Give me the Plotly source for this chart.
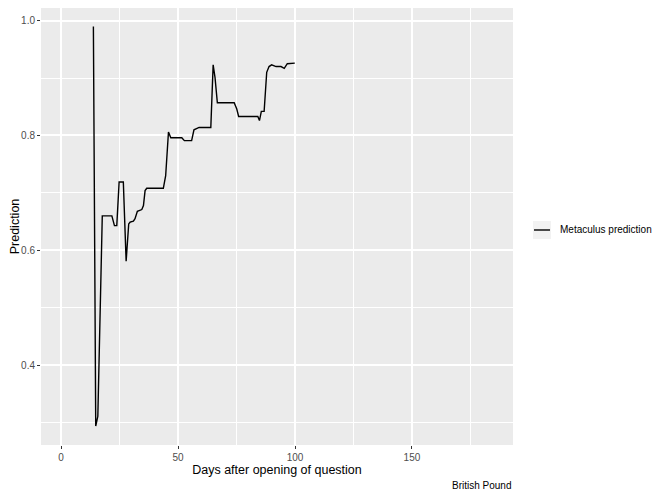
import plotly.graph_objects as go

days = [13.8, 14.8, 15.7, 17.6, 21.7, 22.8, 23.8, 24.8, 26.6, 27.8, 28.9, 29.5, 30.9, 31.6,
        32.6, 34.5, 35.2, 35.9, 36.6, 43.7, 44.7, 45.9, 46.9, 51.6, 52.7, 55.8, 56.8, 58.0,
        59.0, 64.0, 65.0, 65.8, 66.8, 74.0, 75.1, 75.9, 84.1, 84.8, 85.6, 86.8, 87.9, 88.9,
        90.0, 91.9, 94.0, 95.4, 96.7, 99.9]
prediction = [0.99, 0.294, 0.311, 0.66, 0.66, 0.643, 0.643, 0.719, 0.719, 0.581, 0.646, 0.649,
              0.651, 0.655, 0.668, 0.671, 0.678, 0.704, 0.708, 0.708, 0.730, 0.806, 0.796, 0.796,
              0.791, 0.791, 0.810, 0.812, 0.814, 0.814, 0.923, 0.901, 0.857, 0.857, 0.846, 0.833,
              0.833, 0.826, 0.842, 0.842, 0.910, 0.920, 0.923, 0.920, 0.920, 0.917, 0.925, 0.926]

x_ticks = [0, 50, 100, 150]
y_ticks = [0.4, 0.6, 0.8, 1.0]
y_tick_labels = ["0.4", "0.6", "0.8", "1.0"]
series_name = "Metaculus prediction"
caption = "British Pound"

FONT = "Liberation Sans, Arial, sans-serif"

fig = go.Figure()
fig.add_trace(go.Scatter(x=days, y=prediction, mode="lines", name=series_name,
                         line=dict(color="black", width=1.4), showlegend=False))

# the page adds an 8px body margin, so the figure is 8px smaller than the window
fig.update_layout(
    width=656, height=490,
    margin=dict(l=33, r=151, t=0, b=53, autoexpand=False),
    paper_bgcolor="white", plot_bgcolor="#EBEBEB",
    font=dict(family=FONT, size=10, color="black"),
    showlegend=False,
    xaxis=dict(range=[-8.6, 193.2], tickvals=x_ticks, ticks="outside", ticklen=3,
               tickcolor="#333333", tickfont=dict(size=10, color="#4D4D4D"),
               ticklabelstandoff=0,
               showgrid=True, gridcolor="white", gridwidth=1.6, zeroline=False,
               showline=False, automargin=False,
               minor=dict(tickvals=[25, 75, 125, 175], showgrid=True, gridcolor="white",
                          gridwidth=0.8, ticks=""),
               title=dict(text="Days after opening of question", font=dict(size=12.5),
                          standoff=3)),
    yaxis=dict(range=[0.261, 1.022], tickvals=y_ticks, ticktext=y_tick_labels,
               ticks="outside", ticklen=3, tickcolor="#333333",
               tickfont=dict(size=10, color="#4D4D4D"), ticklabelstandoff=0,
               showgrid=True, gridcolor="white", gridwidth=1.6, zeroline=False,
               showline=False, automargin=False,
               minor=dict(tickvals=[0.3, 0.5, 0.7, 0.9], showgrid=True, gridcolor="white",
                          gridwidth=0.8, ticks=""),
               title=dict(text="Prediction", font=dict(size=12.5), standoff=2)),
)

# legend key (ggplot-style grey box with line) and label
fig.add_shape(type="rect", xref="paper", yref="paper", x0=1.0424, x1=1.0805,
              y0=0.4714, y1=0.5126, fillcolor="#F2F2F2", line=dict(width=0))
fig.add_shape(type="line", xref="paper", yref="paper", x0=1.0445, x1=1.0784,
              y0=0.492, y1=0.492, line=dict(color="black", width=1.4))
fig.add_annotation(text=series_name, xref="paper", yref="paper", x=1.0953, y=0.492,
                   xanchor="left", yanchor="middle", showarrow=False,
                   font=dict(size=10, color="black"))

fig.add_annotation(text=caption, xref="paper", yref="paper", x=1.0, y=-0.0938,
                   xanchor="right", yanchor="middle", showarrow=False,
                   font=dict(size=10, color="black"))

fig.write_html("out.html")
